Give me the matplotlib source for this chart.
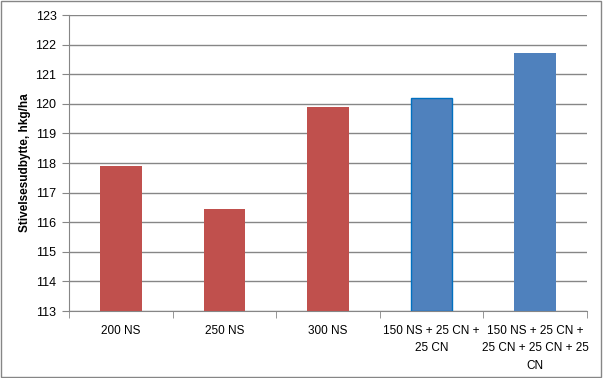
import numpy as np
import matplotlib.pyplot as plt

categories = ["200 NS", "250 NS", "300 NS",
              "150 NS + 25 CN +\n25 CN",
              "150 NS + 25 CN +\n25 CN + 25 CN + 25\nCN"]
values = [117.9, 116.45, 119.9, 120.2, 121.7]
colors = ["#C0504D", "#C0504D", "#C0504D", "#4F81BD", "#4F81BD"]

plt.rcParams['font.family'] = ['Liberation Sans', 'DejaVu Sans']

fig = plt.figure(figsize=(6.03, 3.78), dpi=100)
ax = fig.add_axes([0.1144, 0.1772, 0.8591, 0.7831])

x = np.arange(len(categories))
bars = ax.bar(x, np.array(values) - 113, bottom=113, width=0.4, color=colors, zorder=3)
bars[3].set_edgecolor("#0070C0")
bars[3].set_linewidth(1)

ax.set_xlim(-0.5, len(categories) - 0.5)
ax.set_ylim(113, 123)
ax.set_yticks(range(113, 124))
ax.grid(axis='y', color='#868686', linewidth=1, zorder=0)

ax.set_xticks(x)
ax.set_xticklabels(categories, fontsize=8.5, linespacing=1.6)
ax.set_xticks(np.arange(-0.5, len(categories)), minor=True)
ax.tick_params(axis='x', which='major', length=0, pad=10)
ax.tick_params(axis='x', which='minor', length=5, color='#868686', direction='out')
ax.tick_params(axis='y', length=5, color='#868686', labelsize=9, pad=4)

for side in ['top', 'right']:
    ax.spines[side].set_visible(False)
for side in ['left', 'bottom']:
    ax.spines[side].set_color('#868686')

ax.set_ylabel("Stivelsesudbytte, hkg/ha", fontsize=8.5, fontweight='bold', labelpad=3)

fig.patches.append(plt.Rectangle((0.002, 0.003), 0.995, 0.994, transform=fig.transFigure,
                                 fill=False, edgecolor='#868686', linewidth=1))

fig.savefig("out.png", dpi=100)
